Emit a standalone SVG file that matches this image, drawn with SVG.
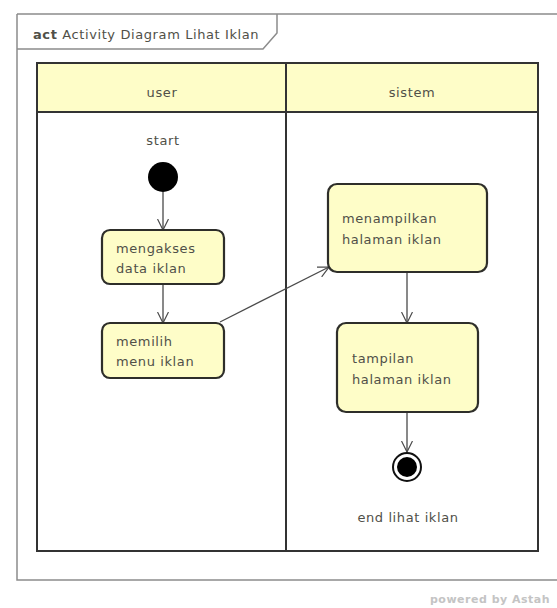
<svg xmlns="http://www.w3.org/2000/svg" width="557" height="608" viewBox="0 0 557 608">
  <style>
    text { font-family: "DejaVu Sans", "Liberation Sans", sans-serif; font-size: 13px; fill: #505048; letter-spacing: 0.6px; }
    .frame { fill: none; stroke: #8c8c8c; stroke-width: 1.5; }
    .lane { fill: none; stroke: #333; stroke-width: 2; }
    .head { fill: #fefdc8; stroke: #333; stroke-width: 2; }
    .act { fill: #fefdc8; stroke: #2e2e2a; stroke-width: 2.2; }
    .flow { fill: none; stroke: #4a4a4a; stroke-width: 1.3; }
    .center { text-anchor: middle; }
  </style>
  <defs>
    <marker id="open" viewBox="0 0 12 12" refX="11" refY="6" markerWidth="12" markerHeight="12" markerUnits="userSpaceOnUse" orient="auto">
      <path d="M0,0.5 L11,6 L0,11.5" fill="none" stroke="#4a4a4a" stroke-width="1.2"/>
    </marker>
  </defs>

  <rect width="557" height="608" fill="#ffffff"/>

  <!-- diagram frame with name tab -->
  <g id="frame">
    <path class="frame" d="M17,14 H560 M17,14 V580 H560"/>
    <path class="frame" d="M17,49 H263 L277,33 V14"/>
    <text x="33" y="39"><tspan font-weight="bold">act</tspan> Activity Diagram Lihat Iklan</text>
  </g>

  <!-- swimlanes -->
  <g id="lanes">
    <rect class="head" x="37" y="63" width="249" height="49"/>
    <rect class="head" x="286" y="63" width="252" height="49"/>
    <rect class="lane" x="37" y="63" width="501" height="488"/>
    <line class="lane" x1="286" y1="63" x2="286" y2="551"/>
    <text class="center" x="162" y="97">user</text>
    <text class="center" x="412" y="97">sistem</text>
  </g>

  <!-- connectors -->
  <g id="connectors">
    <line class="flow" x1="163" y1="192" x2="163" y2="230" marker-end="url(#open)"/>
    <line class="flow" x1="163" y1="285" x2="163" y2="323" marker-end="url(#open)"/>
    <line class="flow" x1="220" y1="322" x2="329" y2="267" marker-end="url(#open)"/>
    <line class="flow" x1="407" y1="273" x2="407" y2="323" marker-end="url(#open)"/>
    <line class="flow" x1="407" y1="413" x2="407" y2="452" marker-end="url(#open)"/>
  </g>

  <g id="start">
    <text class="center" x="163" y="145">start</text>
    <circle cx="163" cy="177" r="15" fill="#000"/>
  </g>

  <g id="mengakses">
    <rect class="act" x="102" y="230" width="122" height="54" rx="8"/>
    <text x="116" y="253">mengakses</text>
    <text x="116" y="273">data iklan</text>
  </g>

  <g id="memilih">
    <rect class="act" x="102" y="323" width="122" height="55" rx="8"/>
    <text x="116" y="346">memilih</text>
    <text x="116" y="366">menu iklan</text>
  </g>

  <g id="menampilkan">
    <rect class="act" x="328" y="184" width="159" height="88" rx="9"/>
    <text x="342" y="223">menampilkan</text>
    <text x="342" y="244">halaman iklan</text>
  </g>

  <g id="tampilan">
    <rect class="act" x="337" y="323" width="141" height="89" rx="9"/>
    <text x="352" y="363">tampilan</text>
    <text x="352" y="384">halaman iklan</text>
  </g>

  <g id="end">
    <circle cx="407" cy="467" r="14" fill="#fff" stroke="#111" stroke-width="2"/>
    <circle cx="407" cy="467" r="10" fill="#000"/>
    <text class="center" x="408" y="522">end lihat iklan</text>
  </g>

  <text x="430" y="603" style="font-size:11px; font-weight:bold; fill:#c4c4c4; letter-spacing:0.5px">powered by Astah</text>
</svg>
